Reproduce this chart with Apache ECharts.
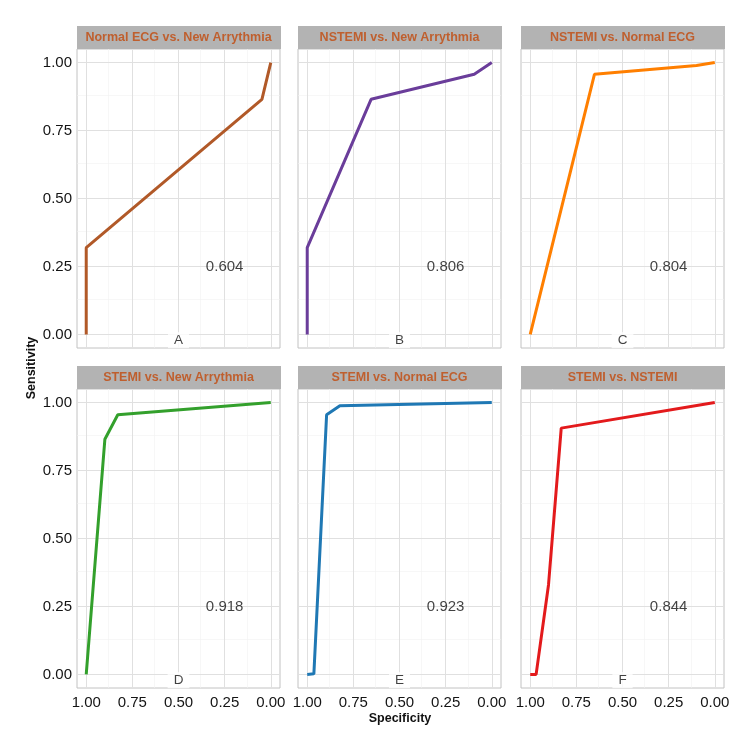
<!DOCTYPE html>
<html>
<head>
<meta charset="utf-8">
<script src="https://cdn.jsdelivr.net/npm/echarts@6/dist/echarts.min.js"></script>
<style>
  html, body { margin: 0; padding: 0; background: #fff; }
  #chart { width: 750px; height: 750px; }
</style>
</head>
<body>
<div id="chart"></div>
<script>
// ROC data: specificity (x) and sensitivity (y) for each comparison
const titles = ['Normal ECG vs. New Arrythmia', 'NSTEMI vs. New Arrythmia', 'NSTEMI vs. Normal ECG',
  'STEMI vs. New Arrythmia', 'STEMI vs. Normal ECG', 'STEMI vs. NSTEMI']
const letters = ['A', 'B', 'C', 'D', 'E', 'F']
const aucs = ['0.604', '0.806', '0.804', '0.918', '0.923', '0.844']
const colors = ['#B15928', '#6A3D9A', '#FF7F00', '#33A02C', '#1F78B4', '#E31A1C']

const specA = [1, 1, 0.048, 0]
const sensA = [0, 0.319, 0.865, 1]
const specB = [1, 1, 0.654, 0.095, 0]
const sensB = [0, 0.319, 0.865, 0.957, 1]
const specC = [1, 0.652, 0.099, 0]
const sensC = [0, 0.957, 0.989, 1]
const specD = [1, 0.899, 0.829, 0]
const sensD = [0, 0.865, 0.955, 1]
const specE = [1, 0.964, 0.895, 0.823, 0]
const sensE = [0, 0.002, 0.955, 0.988, 1]
const specF = [1, 0.968, 0.901, 0.832, 0]
const sensF = [0, 0, 0.329, 0.906, 1]

const specs = [specA, specB, specC, specD, specE, specF]
const senss = [sensA, sensB, sensC, sensD, sensE, sensF]

const majorBreaks = [0, 0.25, 0.5, 0.75, 1]
const minorBreaks = [0.125, 0.375, 0.625, 0.875]

// panel layout (plot area, strip sits above)
const colLeft = [77, 298, 521]
const panelW = 203
const rowTop = [49, 389]
const panelH = 299
const stripH = 23

const fontFam = 'Liberation Sans, Arial, sans-serif'

let grids = [], xAxes = [], yAxes = [], series = [], graphics = []

for (let i = 0; i < 6; i++) {
  const col = i % 3, row = Math.floor(i / 3)
  grids.push({
    left: colLeft[col], top: rowTop[row], width: panelW, height: panelH,
    show: true, borderColor: '#C2C2C2', borderWidth: 1, backgroundColor: '#fff'
  })
  xAxes.push({
    gridIndex: i, type: 'value', min: -0.05, max: 1.05, inverse: true,
    axisLine: {show: false},
    axisTick: {show: row === 1, customValues: majorBreaks, length: 3, lineStyle: {color: '#B3B3B3'}},
    axisLabel: {show: row === 1, customValues: majorBreaks, formatter: v => v.toFixed(2),
      fontSize: 15, color: '#141414', fontFamily: fontFam, margin: 7},
    splitLine: {show: false}
  })
  yAxes.push({
    gridIndex: i, type: 'value', min: -0.05, max: 1.05,
    axisLine: {show: false},
    axisTick: {show: col === 0, customValues: majorBreaks, length: 3, lineStyle: {color: '#B3B3B3'}},
    axisLabel: {show: col === 0, customValues: majorBreaks, formatter: v => v.toFixed(2),
      fontSize: 15, color: '#141414', fontFamily: fontFam, margin: 5},
    splitLine: {show: false}
  })

  // grid lines
  const minorLines = minorBreaks.map(v => ({xAxis: v})).concat(minorBreaks.map(v => ({yAxis: v})))
  const majorLines = majorBreaks.map(v => ({xAxis: v})).concat(majorBreaks.map(v => ({yAxis: v})))
  series.push({
    type: 'line', xAxisIndex: i, yAxisIndex: i, data: [[0.5, 0.5]], showSymbol: false,
    lineStyle: {opacity: 0}, silent: true, z: 1,
    markLine: {silent: true, symbol: 'none', label: {show: false}, animation: false,
      lineStyle: {color: '#F1F1F1', width: 0.6, type: 'solid'}, data: minorLines}
  })
  series.push({
    type: 'line', xAxisIndex: i, yAxisIndex: i, data: [[0.5, 0.5]], showSymbol: false,
    lineStyle: {opacity: 0}, silent: true, z: 2,
    markLine: {silent: true, symbol: 'none', label: {show: false}, animation: false,
      lineStyle: {color: '#E0E0E0', width: 1, type: 'solid'}, data: majorLines}
  })

  // roc curve
  series.push({
    type: 'line', xAxisIndex: i, yAxisIndex: i, z: 5,
    data: specs[i].map((s, k) => [s, senss[i][k]]),
    showSymbol: false, lineStyle: {color: colors[i], width: 3}
  })

  // AUC value and panel letter
  series.push({
    type: 'scatter', xAxisIndex: i, yAxisIndex: i, z: 6, symbolSize: 0,
    data: [[0.25, 0.25]],
    label: {show: true, position: 'inside', formatter: aucs[i], fontSize: 15,
      color: '#111', fontFamily: fontFam}
  })
  series.push({
    type: 'scatter', xAxisIndex: i, yAxisIndex: i, z: 6, symbolSize: 0,
    data: [[0.5, -0.021]],
    label: {show: true, position: 'inside', formatter: letters[i], fontSize: 13.5,
      color: '#111', fontFamily: fontFam, backgroundColor: '#fff', padding: [1, 6]}
  })

  // strip
  graphics.push({
    type: 'rect', left: colLeft[col], top: rowTop[row] - stripH,
    shape: {width: panelW + 1, height: stripH},
    style: {fill: '#B3B3B3'}
  })
  graphics.push({
    type: 'text', x: colLeft[col] + panelW / 2, y: rowTop[row] - stripH / 2,
    style: {text: titles[i], fill: '#BF5F2E', font: 'bold 12.5px ' + fontFam,
      textAlign: 'center', textVerticalAlign: 'middle'}
  })
}

graphics.push({
  type: 'text', x: 400, y: 719,
  style: {text: 'Specificity', fill: '#111', font: 'bold 12.5px ' + fontFam,
    textAlign: 'center', textVerticalAlign: 'middle'}
})
graphics.push({
  type: 'text', x: 32, y: 368, rotation: Math.PI / 2,
  style: {text: 'Sensitivity', fill: '#111', font: 'bold 12.5px ' + fontFam,
    textAlign: 'center', textVerticalAlign: 'middle'}
})

const chart = echarts.init(document.getElementById('chart'))
chart.setOption({
  animation: false,
  grid: grids,
  xAxis: xAxes,
  yAxis: yAxes,
  series: series,
  graphic: graphics
})
</script>
</body>
</html>
